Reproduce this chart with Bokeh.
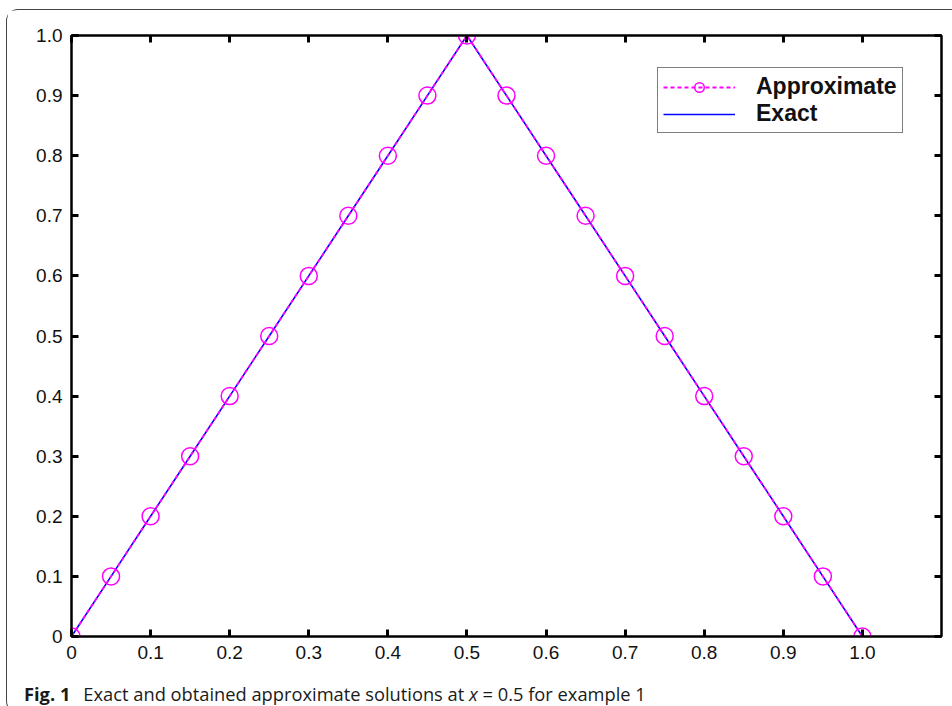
from bokeh.plotting import figure
from bokeh.models import LinearAxis, FixedTicker, Legend, LegendItem, Range1d, Div
from bokeh.layouts import column
from bokeh.embed import file_html
from bokeh.resources import INLINE

# data
x_vals = [0, 0.05, 0.1, 0.15, 0.2, 0.25, 0.3, 0.35, 0.4, 0.45, 0.5,
          0.55, 0.6, 0.65, 0.7, 0.75, 0.8, 0.85, 0.9, 0.95, 1.0]
approx_vals = [0, 0.1, 0.2, 0.3, 0.4, 0.5, 0.6, 0.7, 0.8, 0.9, 1.0,
               0.9, 0.8, 0.7, 0.6, 0.5, 0.4, 0.3, 0.2, 0.1, 0]
exact_vals = [0, 0.1, 0.2, 0.3, 0.4, 0.5, 0.6, 0.7, 0.8, 0.9, 1.0,
              0.9, 0.8, 0.7, 0.6, 0.5, 0.4, 0.3, 0.2, 0.1, 0]
x_ticks = [0, 0.1, 0.2, 0.3, 0.4, 0.5, 0.6, 0.7, 0.8, 0.9, 1.0]
x_tick_labels = ["0", "0.1", "0.2", "0.3", "0.4", "0.5", "0.6", "0.7", "0.8", "0.9", "1.0"]
y_ticks = [0, 0.1, 0.2, 0.3, 0.4, 0.5, 0.6, 0.7, 0.8, 0.9, 1.0]
y_tick_labels = ["0", "0.1", "0.2", "0.3", "0.4", "0.5", "0.6", "0.7", "0.8", "0.9", "1.0"]

TICK_FONT = "Liberation Sans"

p = figure(width=944, height=660, output_backend="svg", toolbar_location=None,
           x_range=Range1d(0, 1.1), y_range=Range1d(0, 1.0),
           x_axis_location=None, y_axis_location=None,
           min_border_left=64, min_border_top=25, min_border_bottom=34, min_border_right=10)
p.grid.visible = False
p.outline_line_color = "black"
p.outline_line_width = 2
p.background_fill_color = "white"
p.border_fill_color = "white"

def style_axis(ax, show_labels, ticks, labels):
    ax.ticker = FixedTicker(ticks=ticks)
    ax.major_label_overrides = {t: l for t, l in zip(ticks, labels)}
    ax.axis_line_color = "black"
    ax.axis_line_width = 2
    ax.major_tick_in = 7
    ax.major_tick_out = 0
    ax.major_tick_line_width = 3
    ax.major_tick_line_color = "black"
    ax.minor_tick_line_color = None
    ax.major_label_text_font = TICK_FONT
    if show_labels:
        ax.major_label_text_color = "#111111"
        ax.major_label_text_font_size = "19px"
        ax.major_label_standoff = 9
    else:
        ax.major_label_text_color = None
        ax.major_label_text_font_size = "1px"
        ax.major_label_standoff = 0

xb = LinearAxis(); style_axis(xb, True, x_ticks, x_tick_labels)
yl = LinearAxis(); style_axis(yl, True, y_ticks, y_tick_labels)
xt = LinearAxis(); style_axis(xt, False, x_ticks, x_tick_labels)
yr = LinearAxis(); style_axis(yr, False, y_ticks, y_tick_labels)
p.add_layout(xb, "below")
p.add_layout(yl, "left")
p.add_layout(xt, "above")
p.add_layout(yr, "right")

r_exact = p.line(x_vals, exact_vals, line_color="blue", line_width=1.6)
r_approx_line = p.line(x_vals, approx_vals, line_color="magenta", line_width=1.8, line_dash="4 3")
r_approx_pts = p.scatter(x_vals, approx_vals, marker="circle", size=17,
                         fill_color=None, line_color="magenta", line_width=1.5)

legend = Legend(items=[LegendItem(label="Approximate", renderers=[r_approx_line, r_approx_pts]),
                       LegendItem(label="Exact", renderers=[r_exact])],
                location=(586, 503))
legend.border_line_color = "black"
legend.border_line_width = 1.5
legend.background_fill_alpha = 1
legend.label_text_font = TICK_FONT
legend.label_text_font_style = "bold"
legend.label_text_font_size = "23px"
legend.label_text_color = "#111111"
legend.glyph_width = 72
legend.glyph_height = 24
legend.label_height = 24
legend.label_standoff = 21
legend.padding = 5
legend.spacing = 0
legend.margin = 0
p.add_layout(legend, "center")

caption_html = ('<b>Fig.&nbsp;1</b><span style="margin-left:13px">Exact and obtained approximate '
                'solutions at <i>x</i> = 0.5 for example 1</span>')
cap = Div(text=caption_html, width=944, height=32,
          styles={"font-family": "'Open Sans', sans-serif", "font-size": "18.3px",
                  "color": "#1a1a1a", "line-height": "32px", "padding-left": "12px",
                  "padding-top": "3px", "white-space": "nowrap"})

layout = column(p, cap, spacing=0)
layout.margin = (9, 0, 0, 6)
layout.styles = {"border-left": "1px solid #444", "border-top": "1px solid #444",
                 "border-bottom": "1px solid #444",
                 "border-top-left-radius": "12px", "border-bottom-left-radius": "12px"}

open("out.html", "w").write(file_html(layout, INLINE))
